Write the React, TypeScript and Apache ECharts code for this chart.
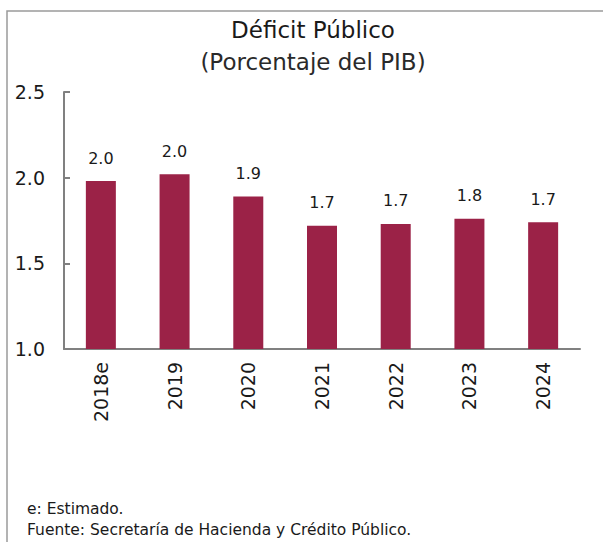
import React, { useEffect, useRef } from "react";
import * as echarts from "echarts";

const categories = ["2018e", "2019", "2020", "2021", "2022", "2023", "2024"];
const deficit = [1.98, 2.02, 1.89, 1.72, 1.73, 1.76, 1.74];
const yTicks = { min: 1.0, max: 2.5, interval: 0.5 };
const titleText = "Déficit Público";
const subtitleText = "(Porcentaje del PIB)";
const notes = ["e: Estimado.", "Fuente: Secretaría de Hacienda y Crédito Público."];

const FONT = "'DejaVu Sans', 'Noto Sans', sans-serif";
const TEXT = "#1a1a1a";
const AXIS = "#808080";
const BAR = "#9B2247";

export default function App() {
  const ref = useRef<HTMLDivElement>(null);
  useEffect(() => {
    if (!ref.current) return;
    const chart = echarts.init(ref.current, null, { renderer: "svg" });
    chart.setOption({
      animation: false,
      backgroundColor: "#ffffff",
      grid: { left: 64, right: 23, top: 92, bottom: 193, containLabel: false },
      xAxis: {
        type: "category",
        data: categories,
        axisLine: { show: true, lineStyle: { color: AXIS, width: 2 } },
        axisTick: { show: false },
        axisLabel: {
          rotate: 90,
          margin: 13,
          color: TEXT,
          fontFamily: FONT,
          fontSize: 19,
        },
      },
      yAxis: {
        type: "value",
        min: yTicks.min,
        max: yTicks.max,
        interval: yTicks.interval,
        axisLine: { show: true, lineStyle: { color: AXIS, width: 2 } },
        axisTick: { show: true, inside: true, length: 6, lineStyle: { color: AXIS, width: 2 } },
        splitLine: { show: false },
        axisLabel: {
          margin: 19,
          color: TEXT,
          fontFamily: FONT,
          fontSize: 19,
          formatter: (v: number) => v.toFixed(1),
        },
      },
      series: [
        {
          type: "bar",
          data: deficit,
          barWidth: 30,
          itemStyle: { color: BAR },
          label: {
            show: true,
            position: "top",
            distance: 15,
            color: TEXT,
            fontFamily: FONT,
            fontSize: 16,
            formatter: (p: any) => Number(p.value).toFixed(1),
          },
        },
      ],
      graphic: [
        {
          type: "rect",
          shape: { x: 7, y: 11, width: 700, height: 700 },
          style: { fill: "none", stroke: "#9a9a9a", lineWidth: 1.5 },
          silent: true,
        },
        {
          type: "text",
          x: 313,
          y: 30,
          style: {
            text: titleText,
            align: "center",
            verticalAlign: "middle",
            fill: TEXT,
            font: `normal 23px ${FONT}`,
          },
        },
        {
          type: "text",
          x: 313,
          y: 62,
          style: {
            text: subtitleText,
            align: "center",
            verticalAlign: "middle",
            fill: "#2a2a2a",
            font: `normal 23px ${FONT}`,
          },
        },
        {
          type: "text",
          x: 27,
          y: 509,
          style: {
            text: notes[0],
            align: "left",
            verticalAlign: "middle",
            fill: TEXT,
            font: `15.5px ${FONT}`,
          },
        },
        {
          type: "text",
          x: 27,
          y: 530,
          style: {
            text: notes[1],
            align: "left",
            verticalAlign: "middle",
            fill: TEXT,
            font: `15.5px ${FONT}`,
          },
        },
      ],
    });
    return () => chart.dispose();
  }, []);
  return (
    <div
      ref={ref}
      style={{ position: "absolute", left: 0, top: 0, width: 603, height: 542 }}
    />
  );
}
